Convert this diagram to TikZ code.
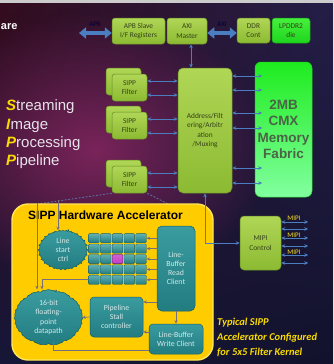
\documentclass[tikz,border=0pt]{standalone}
\usepackage{fontspec}
\setmainfont{Carlito}
\newfontfamily\arialfont{Liberation Sans}
\usetikzlibrary{arrows.meta,shapes.symbols,shadings,fadings}

\definecolor{bgul}{RGB}{52,12,30}
\definecolor{bgur}{RGB}{36,30,72}
\definecolor{bgll}{RGB}{22,22,56}
\definecolor{bglr}{RGB}{18,18,44}
\definecolor{bgglow}{RGB}{122,36,90}
\definecolor{greentop}{RGB}{176,214,86}
\definecolor{greenbot}{RGB}{140,186,50}
\definecolor{greenedge}{RGB}{104,140,36}
\definecolor{greentext}{RGB}{52,64,24}
\definecolor{limetop}{RGB}{70,240,60}
\definecolor{limebot}{RGB}{30,214,30}
\definecolor{cmxtop}{RGB}{30,236,30}
\definecolor{cmxbot}{RGB}{130,255,160}
\definecolor{cmxtext}{RGB}{74,100,70}
\definecolor{arrowblue}{RGB}{74,126,192}
\definecolor{accyellow}{RGB}{255,204,0}
\definecolor{accedge}{RGB}{255,230,90}
\definecolor{tealtop}{RGB}{58,156,160}
\definecolor{tealbot}{RGB}{34,124,128}
\definecolor{tealedge}{RGB}{24,96,100}
\definecolor{tealtext}{RGB}{215,232,232}
\definecolor{cellmag}{RGB}{196,60,196}
\definecolor{greyarrow}{RGB}{118,112,126}
\definecolor{dashblue}{RGB}{92,108,160}
\definecolor{sippyellow}{RGB}{250,220,0}
\definecolor{lighttext}{RGB}{232,226,234}

\tikzfading[name=glowfade, inner color=transparent!0, outer color=transparent!100]

\tikzset{
  greenbox/.style={draw=greenedge, line width=0.5pt, rounded corners=3pt,
    top color=greentop, bottom color=greenbot, text=greentext,
    font=\fontsize{7.4}{9.5}\selectfont, align=center, inner sep=0pt},
  limebox/.style={greenbox, draw=limebot!70!black, top color=limetop, bottom color=limebot},
  tealbox/.style={draw=tealedge, line width=0.5pt, rounded corners=4pt,
    top color=tealtop, bottom color=tealbot, text=tealtext,
    font=\fontsize{7.8}{9.2}\selectfont, align=center, inner sep=0pt},
  tealcloud/.style={tealbox, shape=cloud, cloud puffs=13, cloud puff arc=120, aspect=1.3},
  cellbox/.style={draw=tealedge, line width=0.3pt, rounded corners=1pt,
    top color=tealtop!80!white, bottom color=tealbot, minimum width=10.6pt,
    minimum height=9.2pt, inner sep=0pt},
  bigarrow/.style={draw=arrowblue, line width=3.4pt,
    {Triangle[length=7pt,width=11pt]}-{Triangle[length=7pt,width=11pt]}},
  bluearrow/.style={draw=arrowblue, line width=1pt,
    {Stealth[length=4pt,width=3.6pt]}-{Stealth[length=4pt,width=3.6pt]}},
  greyarrow/.style={draw=greyarrow, line width=0.7pt, -{Stealth[length=3.6pt,width=3.2pt]}},
  greyline/.style={draw=greyarrow, line width=0.7pt},
  calloutline/.style={draw=dashblue, line width=0.9pt, dash pattern=on 2pt off 1.5pt},
  buslabel/.style={text=black!80!blue, font=\fontsize{7}{8}\selectfont, inner sep=0pt},
  mipilabel/.style={text=sippyellow!90!white, font=\fontsize{7}{8}\selectfont, inner sep=0pt}
}
\newcommand{\sipp}[2]{\textcolor{sippyellow}{\textbf{\textit{#1}}}#2}

\begin{document}
\begin{tikzpicture}[x=1pt, y=-1pt]
  \useasboundingbox (0,0) rectangle (333,364);
  \shade[upper left=bgul, upper right=bgur, lower left=bgll, lower right=bglr] (0,0) rectangle (333,364);
  \fill[bgglow, path fading=glowfade] (95,150) ellipse (175 and 140);
  \fill[black!20] (0,0) rectangle (333,2.5);

  \node[text=white, font=\arialfont\bfseries\fontsize{11}{13}\selectfont, anchor=west, inner sep=0pt] (hw) at (0.8,27) {are};

  % top bus
  \node[greenbox, minimum width=53pt, minimum height=26pt] (apb) at (138.5,31) {APB Slave\\I/F Registers};
  \node[greenbox, minimum width=40pt, minimum height=26pt] (axi) at (187,31) {AXI\\Master};
  \node[greenbox, minimum width=33pt, minimum height=25pt] (ddr) at (253.5,30.5) {DDR\\Cont};
  \node[limebox, minimum width=38pt, minimum height=25pt] (lpddr) at (291,30.5) {LPDDR2\\die};
  \coordinate (apbin) at (79,33);
  \draw[bigarrow] (apbin) -- (apbin -| apb.west);
  \draw[bigarrow] ([yshift=-2pt]axi.east) -- ([yshift=-2pt]axi.east -| ddr.west);
  \node[buslabel] (apblbl) at (95,24) {APB};
  \node[buslabel] (axilbl) at (222,24) {AXI};

  % filters, switch and memory
  \node[greenbox, minimum width=57pt, minimum height=135pt, rounded corners=6pt,
    draw=limebot, top color=cmxtop, bottom color=cmxbot, text=cmxtext,
    font=\arialfont\bfseries\fontsize{13.5}{16.5}\selectfont] (cmx) at (283.5,129.5) {2MB\\CMX\\Memory\\Fabric};
  \node[greenbox, minimum width=54pt, minimum height=125pt, rounded corners=5pt] (addr) at (205,130.5) {Address/Filt\\ering/Arbitr\\ation\\/Muxing};
  \draw[bluearrow] ([xshift=4pt]axi.south) -- ([xshift=4pt]axi.south |- addr.north);
  \foreach \f/\y in {f1/87.5, f2/125.5, f3/179.5} {
    \node[greenbox, minimum width=35pt, minimum height=27pt] (\f b) at (123.5,\y-6) {};
    \node[greenbox, minimum width=35pt, minimum height=27pt] (\f) at (129.5,\y) {SIPP\\Filter};
    \foreach \dy in {6.5,-7.5}
      \draw[bluearrow] ([yshift=\dy pt]\f.east) -- ([yshift=\dy pt]\f.east -| addr.west);
  }
  \foreach \dy in {54.5,40.5,17.5,2.5,-37.5,-52.5}
    \draw[bluearrow] ([yshift=\dy pt]addr.east) -- ++(30,0);

  \node[text=lighttext, font=\arialfont\fontsize{15}{18.4}\selectfont, align=left, anchor=west, inner sep=0pt] (sipptxt) at (6,134.5)
    {\sipp{S}{treaming}\\\sipp{I}{mage}\\\sipp{P}{rocessing}\\\sipp{P}{ipeline}};

  % accelerator detail
  \coordinate (dashl) at (30,205);
  \coordinate (dashr) at (170,205);
  \draw[calloutline] (f3.south west) -- (dashl);
  \draw[calloutline] (f3.south east) -- (dashr);
  \node[draw=accedge, line width=1.4pt, fill=accyellow, rounded corners=16pt,
    minimum width=201pt, minimum height=156pt] (acc) at (112.5,282) {};
  \node[font=\arialfont\bfseries\fontsize{12}{14}\selectfont, anchor=west, inner sep=0pt] (acctitle) at (28,215) {SIPP Hardware Accelerator};

  \node[tealcloud, minimum width=40pt, minimum height=36pt] (lsc) at (63,250) {Line\\start\\ctrl};
  \node[tealcloud, minimum width=63pt, minimum height=45pt] (dp) at (48.5,317.5) {16-bit\\floating-\\point\\datapath};
  \foreach \i in {1,...,5}
    \foreach \j in {1,...,5}
      \node[cellbox] (cell-\i-\j) at ({88+11.8*(\i-0.5)},{233+10.4*(\j-0.5)}) {};
  \node[cellbox, draw=cellmag!60!black, top color=cellmag!80!white, bottom color=cellmag] (cellmid) at (cell-3-3) {};
  \node[tealbox, minimum width=38pt, minimum height=85pt, rounded corners=5pt] (read) at (176,268.5) {Line-\\Buffer\\Read\\Client};
  \node[tealbox, minimum width=53pt, minimum height=40pt] (ps) at (116.5,317) {Pipeline\\Stall\\controller};
  \node[tealbox, minimum width=54pt, minimum height=30pt] (write) at (176,339) {Line-Buffer\\Write Client};

  \coordinate (in1) at (58,200);
  \coordinate (in2) at (37,203);
  \draw[greyarrow] (in1) -- (in1 |- lsc.north);
  \draw[greyarrow] (in2) -- (in2 |- dp.north);
  \draw[greyarrow] (cell-1-5.west) -| ([xshift=-6.5pt]dp.north);
  \foreach \j in {1,...,5}
    \draw[greyarrow] (read.west |- cell-5-\j.east) -- (cell-5-\j.east);
  \draw[greyarrow] ([yshift=-33.5pt]read.west) -- ([yshift=-33.5pt]read.west -| ps.east);
  \draw[greyarrow] (read.south) -- (write.north);
  \draw[greyarrow] ([yshift=7pt]write.west) -- ([yshift=7pt]write.west -| ps.east);
  \draw[greyarrow] (ps.west) -- (dp.east);
  \draw[greyline] ([xshift=4.5pt]dp.south) |- ([yshift=-11pt]write.west);

  % camera side
  \node[greenbox, minimum width=41pt, minimum height=54pt, rounded corners=4pt] (mipi) at (260.5,243) {MIPI\\Control};
  \draw[bluearrow] (addr.south) |- (mipi.west);
  \foreach \dy in {21,14,5,-3,-12,-20}
    \draw[bluearrow] ([yshift=\dy pt]mipi.east) -- ++(27,0);
  \foreach \n/\y in {1/218.5, 2/235, 3/252}
    \node[mipilabel] (mipi\n) at (294,\y) {MIPI};

  \node[text=sippyellow, font=\bfseries\itshape\fontsize{10.5}{15}\selectfont, align=left, anchor=north west, inner sep=0pt] (note) at (217,318)
    {Typical SIPP\\Accelerator Configured\\for 5x5 Filter Kernel};
\end{tikzpicture}
\end{document}
